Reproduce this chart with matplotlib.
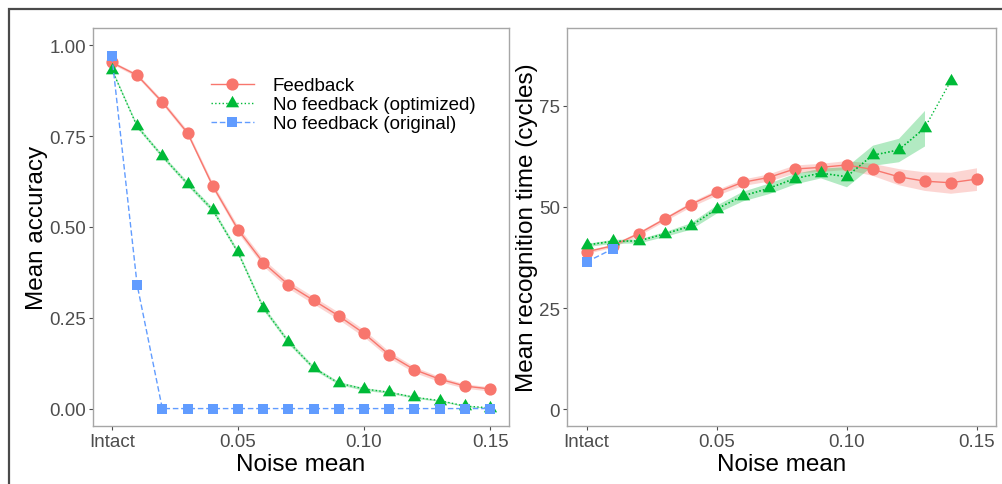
import matplotlib
matplotlib.use("Agg")
import matplotlib.pyplot as plt
from matplotlib.patches import Rectangle
import numpy as np

plt.rcParams['font.family'] = ['Liberation Sans', 'DejaVu Sans']

# noise levels: 0 is the intact network
noise = [0.00, 0.01, 0.02, 0.03, 0.04, 0.05, 0.06, 0.07,
         0.08, 0.09, 0.10, 0.11, 0.12, 0.13, 0.14, 0.15]
xtick_vals = [0.00, 0.05, 0.10, 0.15]
xtick_labels = ['Intact', '0.05', '0.10', '0.15']

# mean accuracy
acc_fb = [0.953, 0.918, 0.844, 0.759, 0.613, 0.493, 0.402, 0.341,
          0.298, 0.255, 0.207, 0.148, 0.107, 0.081, 0.062, 0.054]
acc_fb_se = [0.004, 0.005, 0.006, 0.007, 0.008, 0.009, 0.010, 0.010,
             0.010, 0.010, 0.010, 0.009, 0.008, 0.007, 0.006, 0.006]
acc_opt = [0.933, 0.777, 0.695, 0.619, 0.547, 0.430, 0.278, 0.184,
           0.112, 0.070, 0.054, 0.045, 0.031, 0.022, 0.007, 0.002]
acc_opt_se = [0.004, 0.005, 0.005, 0.006, 0.006, 0.006, 0.006, 0.006,
              0.005, 0.004, 0.004, 0.003, 0.003, 0.002, 0.002, 0.001]
acc_orig = [0.970, 0.341, 0.0, 0.0, 0.0, 0.0, 0.0, 0.0,
            0.0, 0.0, 0.0, 0.0, 0.0, 0.0, 0.0, 0.0]

# mean recognition time (cycles)
rt_fb = [38.9, 40.4, 43.4, 47.0, 50.6, 53.6, 56.1, 57.3,
         59.4, 59.8, 60.4, 59.3, 57.5, 56.4, 56.0, 56.9]
rt_fb_se = [0.4, 0.4, 0.5, 0.5, 0.6, 0.7, 0.8, 0.9,
            1.0, 1.0, 1.1, 1.5, 2.0, 2.3, 2.6, 2.8]
noise_opt_rt = noise[:15]
rt_opt = [40.6, 41.5, 41.6, 43.3, 45.3, 49.5, 52.7, 54.6,
          57.0, 58.4, 57.5, 62.8, 64.1, 69.5, 81.1]
rt_opt_se = [0.4, 0.5, 0.5, 0.6, 0.8, 1.0, 1.2, 1.3,
             1.3, 1.2, 2.5, 2.5, 2.9, 4.4, 0.0]
noise_orig_rt = noise[:2]
rt_orig = [36.4, 39.6]

RED = '#F8766D'
GREEN = '#00BA38'
BLUE = '#619CFF'
TICK_COL = '#4D4D4D'
BORDER = '#A6A6A6'

# triangle centred on its centroid
tri = [(0, 1), (-0.866, -0.5), (0.866, -0.5), (0, 1)]
TRI_MS = 11

fig = plt.figure(figsize=(10.02, 4.85), dpi=100)
fig.patches.append(Rectangle((9 / 1002, -0.1), 1.2, 1 - 10 / 485 + 0.1,
                             transform=fig.transFigure, fill=False,
                             edgecolor='#4A4A4A', linewidth=1.6))

W, H = 1002.0, 485.0
ax1 = fig.add_axes([93 / W, 1 - 427 / H, 416 / W, 398 / H])
ax2 = fig.add_axes([567 / W, 1 - 427 / H, 429 / W, 398 / H])


def style(ax, ylabel, ycoord):
    for s in ax.spines.values():
        s.set_color(BORDER)
        s.set_linewidth(1.0)
    ax.tick_params(axis='both', colors=TICK_COL, labelcolor=TICK_COL,
                   labelsize=13.5, length=3, width=0.8, pad=2)
    ax.set_xticks(xtick_vals)
    ax.set_xticklabels(xtick_labels)
    ax.set_xlim(-0.0075, 0.1575)
    ax.set_xlabel('Noise mean', fontsize=17.5, color='black')
    ax.xaxis.set_label_coords(0.5, -0.095)
    ax.xaxis.label.set_va('center')
    ax.set_ylabel(ylabel, fontsize=17.5, color='black')
    ax.yaxis.set_label_coords(ycoord, 0.5)
    ax.yaxis.label.set_va('center')


def series(ax, x, y, se, color, ls, marker, ms, label=None):
    if se is not None:
        lo = np.array(y) - np.array(se)
        hi = np.array(y) + np.array(se)
        ax.fill_between(x, lo, hi, color=color, alpha=0.3, linewidth=0)
    ax.plot(x, y, color=color, linestyle=ls, linewidth=1.0, marker=marker,
            markersize=ms, markeredgewidth=0, label=label)


series(ax1, noise, acc_fb, acc_fb_se, RED, '-', 'o', 8.8, 'Feedback')
series(ax1, noise, acc_opt, acc_opt_se, GREEN, ':', tri, TRI_MS,
       'No feedback (optimized)')
series(ax1, noise, acc_orig, None, BLUE, (0, (4, 2)), 's', 7.5,
       'No feedback (original)')
ax1.set_ylim(-0.048, 1.048)
ax1.set_yticks([0.0, 0.25, 0.5, 0.75, 1.0])
ax1.set_yticklabels(['0.00', '0.25', '0.50', '0.75', '1.00'])
style(ax1, 'Mean accuracy', -0.135)

leg = ax1.legend(loc='upper left', bbox_to_anchor=(0.265, 0.895), frameon=False,
                 fontsize=13.5, handlelength=2.3, handletextpad=1.0,
                 labelspacing=0.1, borderaxespad=0)

series(ax2, noise, rt_fb, rt_fb_se, RED, '-', 'o', 8.8)
series(ax2, noise_opt_rt[:14], rt_opt[:14], rt_opt_se[:14], GREEN, ':', None, 0)
ax2.plot(noise_opt_rt, rt_opt, color=GREEN, linestyle=':', linewidth=1.0,
         marker=tri, markersize=TRI_MS, markeredgewidth=0)
series(ax2, noise_orig_rt, rt_orig, None, BLUE, (0, (4, 2)), 's', 7.5)
ax2.set_ylim(-4.2, 94.3)
ax2.set_yticks([0, 25, 50, 75])
style(ax2, 'Mean recognition time (cycles)', -0.093)

fig.savefig('out.png', dpi=100)
